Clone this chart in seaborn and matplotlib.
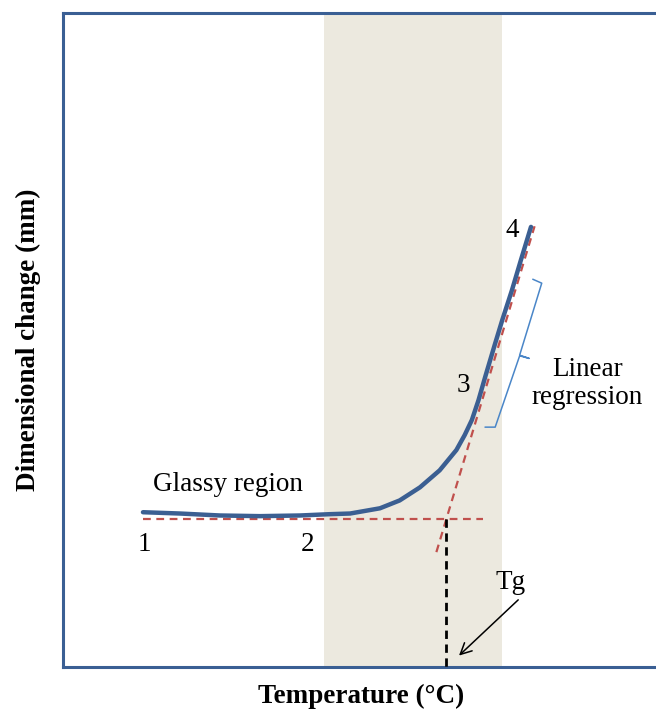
import numpy as np
import pandas as pd
import matplotlib
matplotlib.use("Agg")
import matplotlib.pyplot as plt
import seaborn as sns

# curve (arbitrary units)
temp = [13.4, 19.6, 26.3, 33.0, 39.7, 44.7, 48.1, 50.6, 53.1, 56.4, 59.8, 63.1,
        65.9, 67.3, 68.5, 69.6, 70.8, 72.3, 73.6, 75.2, 76.7, 78.4]
change = [23.7, 23.5, 23.2, 23.1, 23.2, 23.4, 23.5, 23.9, 24.3, 25.5, 27.5, 30.1,
          33.2, 35.5, 37.8, 40.8, 44.6, 49.2, 53.1, 57.6, 62.2, 67.3]

base_x = [13.4, 70.4]
base_y = [22.6, 22.6]
slope_x = [62.55, 79.0]
slope_y = [17.6, 67.4]
tg_x = 64.2
band = [43.7, 73.6]

point_labels = ["1", "2", "3", "4"]
point_pos = [(13.7, 18.7), (40.9, 18.7), (67.0, 43.1), (75.2, 66.8)]

sns.set_style("white")
plt.rcParams['font.family'] = ['Liberation Serif', 'DejaVu Serif']
plt.rcParams['text.color'] = 'black'

fig = plt.figure(figsize=(6.56, 7.16), dpi=100)
ax = fig.add_axes([0.096, 0.068, 0.91, 0.914])

ax.axvspan(band[0], band[1], color="#ece9df", zorder=0, lw=0)

df = pd.DataFrame({"temp": temp, "change": change})
sns.lineplot(data=df, x="temp", y="change", ax=ax, color="#3b5f92", lw=3.2,
             estimator=None, sort=False, zorder=4, solid_joinstyle="round")

ax.plot(base_x, base_y, color="#c0504d", ls=(0, (3.5, 2.5)), lw=1.6, zorder=3)
ax.plot(slope_x, slope_y, color="#c0504d", ls=(0, (3.5, 2.5)), lw=1.6, zorder=3)
ax.plot([tg_x, tg_x], [base_y[0], 0], color="black", ls=(0, (3, 2)), lw=2, zorder=3)

# bracket for the linear regression part
br_x = [78.7, 80.2, 76.5, 78.1, 76.5, 72.4, 70.7]
br_y = [59.3, 58.7, 47.7, 47.2, 47.6, 36.7, 36.7]
ax.plot(br_x, br_y, color="#4a86c8", lw=1.1, zorder=3)

for lab, (px, py) in zip(point_labels, point_pos):
    ax.text(px, py, lab, fontsize=19.5, ha="center", va="center", color="black")

ax.text(27.6, 28.0, "Glassy region", fontsize=19.5, ha="center", va="center", color="black")
ax.text(87.8, 43.4, "Linear\nregression", fontsize=19.5, ha="center", va="center",
        linespacing=1.15, color="black")
ax.text(74.9, 13.0, "Tg", fontsize=19.5, ha="center", va="center", color="black")
ax.annotate("", xy=(66.0, 1.5), xytext=(76.6, 10.6),
            arrowprops=dict(arrowstyle="->", color="black", lw=1.1, mutation_scale=20))

ax.set_xlim(0, 100)
ax.set_ylim(0, 100)
ax.set_xticks([])
ax.set_yticks([])
ax.set_xlabel("Temperature (°C)", fontsize=19.5, fontweight="bold", labelpad=12, color="black")
ax.set_ylabel("Dimensional change (mm)", fontsize=19.5, fontweight="bold", labelpad=16, color="black")

for side in ["left", "top", "bottom"]:
    ax.spines[side].set_color("#3a5f94")
    ax.spines[side].set_linewidth(2.2)
ax.spines["right"].set_visible(False)

fig.savefig("out.png", dpi=100)
